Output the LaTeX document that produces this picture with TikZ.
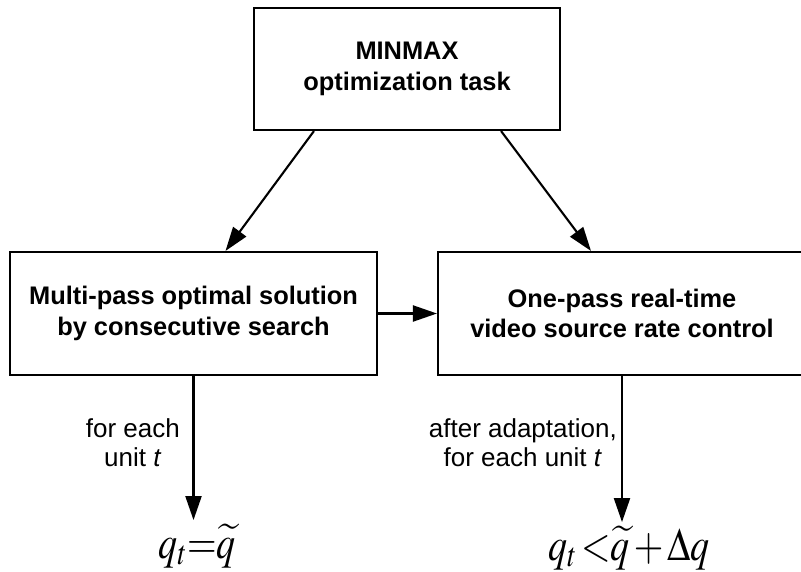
\documentclass[tikz,border=0pt]{standalone}
\usepackage{mathptmx}
\usepackage[no-math]{fontspec}
\setmainfont{Liberation Sans}
\usetikzlibrary{arrows.meta}
\tikzset{
  box/.style={draw, line width=2.1pt, align=center, inner sep=0pt,
    font=\fontsize{25.4}{30.5}\selectfont\bfseries},
  lbl/.style={align=center, inner sep=0pt, font=\fontsize{26}{29}\selectfont},
  eq/.style={inner sep=0pt, yscale=1.22, transform shape,
    font=\fontsize{38}{40}\selectfont},
  arr/.style={line width=2.1pt, -{Triangle[length=24pt, width=16pt]}}
}

\begin{document}
\begin{tikzpicture}[x=1pt, y=1pt]
    \clip (0,0) rectangle (801,-571);

    % --- BOXES ---
    \node[box, minimum width=306pt, minimum height=122pt] (task) at (407,-69)
        {MINMAX\\optimization task};
    \node[box, minimum width=367pt, minimum height=123pt] (multi) at (193.5,-313.5)
        {Multi-pass optimal solution\\by consecutive search};
    \node[box, minimum width=368pt, minimum height=123pt] (onepass) at (622,-313.5)
        {One-pass real-time\\video source rate control};

    % --- RESULTS ---
    \node[eq, anchor=base] (eqleft) at (197,-558) {$q_t{=}\widetilde{q}$};
    \node[eq, anchor=base] (eqright) at (629,-560)
        {$q_t\,{<}\widetilde{q}\,{+}\,\Delta q$};

    \node[lbl, anchor=north east] (lblleft) at (180,-418) {for each\\unit \textit{t}};
    \node[lbl, anchor=north east] (lblright) at (617,-418)
        {after adaptation,\\for each unit \textit{t}};

    % --- ARROWS ---
    \draw[arr] ([xshift=61pt]task.south west) -- ([xshift=32pt]multi.north);
    \draw[arr] ([xshift=-60pt]task.south east) -- ([xshift=-31pt]onepass.north);
    \draw[arr] (multi.east) -- (onepass.west);
    \draw[arr, shorten >=4pt] (multi.south) -- (multi.south |- eqleft.north);
    \draw[arr, shorten >=4pt] (onepass.south) -- (onepass.south |- eqright.north);
\end{tikzpicture}
\end{document}
